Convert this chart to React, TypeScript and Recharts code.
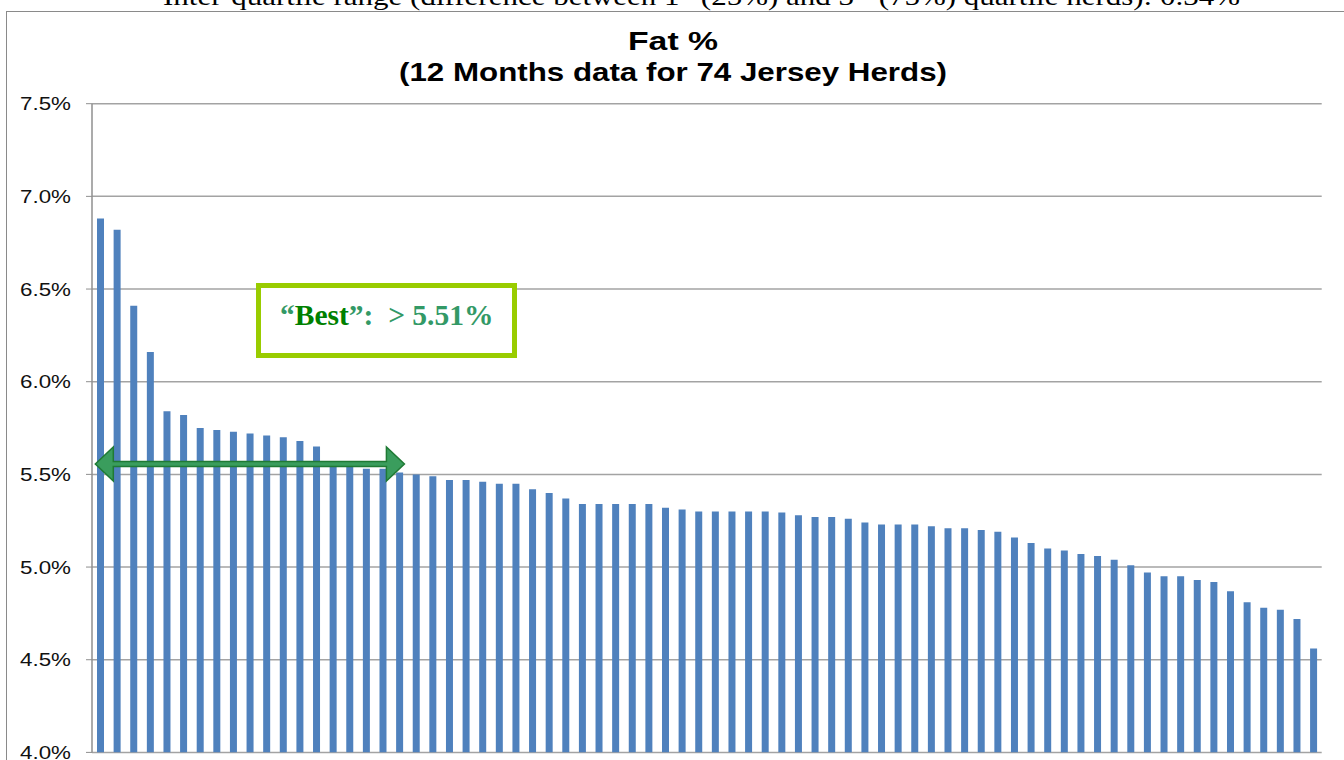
import { Bar, BarChart, CartesianGrid, ReferenceLine, XAxis, YAxis } from "recharts";

// herd rank, sorted by fat %
const herds = [
  "1", "2", "3", "4", "5", "6", "7", "8", "9", "10",
  "11", "12", "13", "14", "15", "16", "17", "18", "19", "20",
  "21", "22", "23", "24", "25", "26", "27", "28", "29", "30",
  "31", "32", "33", "34", "35", "36", "37", "38", "39", "40",
  "41", "42", "43", "44", "45", "46", "47", "48", "49", "50",
  "51", "52", "53", "54", "55", "56", "57", "58", "59", "60",
  "61", "62", "63", "64", "65", "66", "67", "68", "69", "70",
  "71", "72", "73", "74",
];

const fatPct = [
  6.88, 6.82, 6.41, 6.16, 5.84, 5.82, 5.75, 5.74, 5.73, 5.72,
  5.71, 5.70, 5.68, 5.65, 5.56, 5.55, 5.53, 5.53, 5.51, 5.50,
  5.49, 5.47, 5.47, 5.46, 5.45, 5.45, 5.42, 5.40, 5.37, 5.34,
  5.34, 5.34, 5.34, 5.34, 5.32, 5.31, 5.30, 5.30, 5.30, 5.30,
  5.30, 5.295, 5.28, 5.27, 5.27, 5.26, 5.24, 5.23, 5.23, 5.23,
  5.22, 5.21, 5.21, 5.20, 5.19, 5.16, 5.13, 5.10, 5.09, 5.07,
  5.06, 5.04, 5.01, 4.97, 4.95, 4.95, 4.93, 4.92, 4.87, 4.81,
  4.78, 4.77, 4.72, 4.56,
];

const yTicks = [4.0, 4.5, 5.0, 5.5, 6.0, 6.5, 7.0, 7.5];

const bestFrom = "1";
const bestTo = "19";
const bestLevel = 5.556;

const data = herds.map((herd, i) => ({ herd, fat: fatPct[i] }));

function PctTick(props: any) {
  const { x, y, payload } = props;
  return (
    <text
      x={x}
      y={y}
      dy={6.5}
      textAnchor="end"
      fontSize={18}
      fontFamily="'Liberation Sans', Arial, sans-serif"
      fill="#111"
      textLength={51}
      lengthAdjust="spacingAndGlyphs"
    >
      {payload.value.toFixed(1)}%
    </text>
  );
}

function DoubleArrow(props: any) {
  const { x1, x2, y1 } = props;
  const l = x1 - 5;
  const r = x2 + 5;
  const y = y1;
  const hw = 18; // head length
  const hh = 17; // half head height
  const sh = 2.6; // half shaft
  const pts = [
    [l, y],
    [l + hw, y - hh],
    [l + hw, y - sh],
    [r - hw, y - sh],
    [r - hw, y - hh],
    [r, y],
    [r - hw, y + hh],
    [r - hw, y + sh],
    [l + hw, y + sh],
    [l + hw, y + hh],
  ]
    .map((p) => p.join(","))
    .join(" ");
  return <polygon points={pts} fill="#3a9d5d" stroke="#1f7a34" strokeWidth={1.5} />;
}

export default function App() {
  return (
    <div
      style={{
        position: "relative",
        width: 1344,
        height: 760,
        overflow: "hidden",
        background: "#fff",
      }}
    >
      <style>{"body{margin:0}"}</style>
      <svg
        width={1344}
        height={20}
        style={{ position: "absolute", left: 0, top: 0 }}
      >
        <text
          x={163}
          y={5}
          fontSize={26}
          fontFamily="'Liberation Serif', 'Times New Roman', serif"
          fill="#000"
          textLength={1077}
          lengthAdjust="spacingAndGlyphs"
        >
          Inter-quartile range (difference between 1
          <tspan fontSize={17} dy={-9}>st</tspan>
          <tspan dy={9}> (25%) and 3</tspan>
          <tspan fontSize={17} dy={-9}>rd</tspan>
          <tspan dy={9}> (75%) quartile herds):  0.34%</tspan>
        </text>
      </svg>
      <div
        style={{
          position: "absolute",
          left: 6,
          top: 11,
          width: 1340,
          height: 800,
          border: "1px solid #8a8a8a",
          boxSizing: "border-box",
        }}
      />
      <div style={{ position: "absolute", left: 0, top: 0 }}>
        <BarChart
          width={1344}
          height={760}
          data={data}
          margin={{ top: 103.7, right: 22.3, bottom: 7.6, left: 0 }}
        >
          <CartesianGrid
            vertical={false}
            stroke="#a3a3a3"
            strokeWidth={1.5}
          />
          <XAxis dataKey="herd" hide />
          <YAxis
            width={92}
            domain={[4, 7.5]}
            ticks={yTicks}
            interval={0}
            allowDataOverflow
            axisLine={{ stroke: "#8f8f8f", strokeWidth: 1.5 }}
            tickLine={{ stroke: "#8f8f8f" }}
            tickSize={6}
            tickMargin={15}
            tick={<PctTick />}
          />
          <Bar dataKey="fat" fill="#4f81bd" barSize={7} isAnimationActive={false} />
          <ReferenceLine
            segment={[
              { x: bestFrom, y: bestLevel },
              { x: bestTo, y: bestLevel },
            ]}
            ifOverflow="visible"
            shape={<DoubleArrow />}
          />
        </BarChart>
      </div>
      <svg
        width={1344}
        height={100}
        style={{ position: "absolute", left: 0, top: 0, pointerEvents: "none" }}
      >
        <text
          x={673}
          y={50}
          textAnchor="middle"
          fontSize={26}
          fontWeight="bold"
          fontFamily="'Liberation Sans', Arial, sans-serif"
          fill="#000"
          textLength={90}
          lengthAdjust="spacingAndGlyphs"
        >
          Fat %
        </text>
        <text
          x={673}
          y={81}
          textAnchor="middle"
          fontSize={26}
          fontWeight="bold"
          fontFamily="'Liberation Sans', Arial, sans-serif"
          fill="#000"
          textLength={548}
          lengthAdjust="spacingAndGlyphs"
        >
          (12 Months data for 74 Jersey Herds)
        </text>
      </svg>
      <div
        style={{
          position: "absolute",
          left: 256,
          top: 283,
          width: 261,
          height: 75,
          border: "5px solid #99cc00",
          boxSizing: "border-box",
          background: "#fff",
        }}
      >
        <div
          style={{
            position: "absolute",
            left: 19,
            top: 10,
            fontFamily: "'Liberation Serif', 'Times New Roman', serif",
            fontWeight: "bold",
            fontSize: 29.5,
            lineHeight: "34px",
            whiteSpace: "pre",
            color: "#339966",
          }}
        >
          “<span style={{ color: "#008000" }}>Best</span>”:  &gt; 5.51%
        </div>
      </div>
    </div>
  );
}
